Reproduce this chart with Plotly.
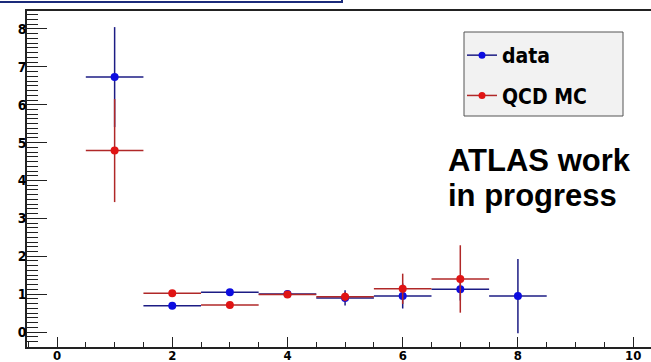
import plotly.graph_objects as go

# ---- data ----
bins_data = [1, 2, 3, 4, 5, 6, 7, 8]
data_y = [6.73, 0.69, 1.05, 1.00, 0.90, 0.95, 1.13, 0.95]
data_err = [1.32, 0.06, 0.06, 0.08, 0.20, 0.33, 0.30, 0.98]
bins_mc = [1, 2, 3, 4, 5, 6, 7]
mc_y = [4.79, 1.02, 0.71, 0.99, 0.93, 1.14, 1.40]
mc_err = [1.36, 0.09, 0.06, 0.09, 0.12, 0.40, 0.89]
bin_half = 0.5
series_names = ["data", "QCD MC"]
text_lines = ["ATLAS work", "in progress"]

W, H = 651, 362
ML, MR, MT, MB = 27, 0, 11, 15
PW, PH = W - ML - MR, H - MT - MB


def px(x):
    return (x - ML) / PW


def py(y):
    return (H - MB - y) / PH


BLUE_M, BLUE_L = "#0c0ce0", "#1c1c84"
RED_M, RED_L = "#e01414", "#b02828"
NARROW = "DejaVu Sans Condensed, Liberation Sans Narrow, Arial Narrow, sans-serif"

fig = go.Figure()
fig.add_trace(go.Scatter(
    x=bins_data, y=data_y, mode="markers", showlegend=False,
    marker=dict(color=BLUE_M, size=8),
    error_y=dict(type="data", array=data_err, color=BLUE_L, thickness=1.5, width=0),
    error_x=dict(type="data", array=[bin_half] * len(bins_data), color=BLUE_L, thickness=1.5, width=0),
))
fig.add_trace(go.Scatter(
    x=bins_mc, y=mc_y, mode="markers", showlegend=False,
    marker=dict(color=RED_M, size=8),
    error_y=dict(type="data", array=mc_err, color=RED_L, thickness=1.5, width=0),
    error_x=dict(type="data", array=[bin_half] * len(bins_mc), color=RED_L, thickness=1.5, width=0),
))
# legend entries
fig.add_trace(go.Scatter(x=[None], y=[None], mode="lines+markers", name=series_names[0],
                         legendgroup="a", line=dict(color=BLUE_L, width=1.5),
                         marker=dict(color=BLUE_M, size=7)))
fig.add_trace(go.Scatter(x=[None], y=[None], mode="lines+markers", name=series_names[1],
                         legendgroup="b", line=dict(color=RED_L, width=1.5),
                         marker=dict(color=RED_M, size=7)))

fig.update_layout(
    template="none",
    width=W, height=H,
    margin=dict(l=ML, r=MR, t=MT, b=MB, autoexpand=False),
    paper_bgcolor="white", plot_bgcolor="white",
    showlegend=True,
    legend=dict(x=px(462), y=py(35), xanchor="left", yanchor="top",
                bgcolor="rgba(0,0,0,0)", borderwidth=0,
                font=dict(family=NARROW, size=21, color="black", weight="bold"),
                tracegroupgap=10, itemclick=False),
    xaxis=dict(range=[-0.521, 10.31], dtick=2, tick0=0, showgrid=False, zeroline=False,
               automargin=False,
               showline=True, linecolor="#222", linewidth=2, mirror=True,
               ticks="inside", ticklen=10, tickwidth=1.2, tickcolor="#222",
               ticklabelstandoff=-5,
               minor=dict(dtick=0.5, ticks="inside", ticklen=5, tickwidth=1.2, tickcolor="#222"),
               tickfont=dict(family=NARROW, size=13, color="black", weight="bold")),
    yaxis=dict(range=[-0.396, 8.475], dtick=1, tick0=0, showgrid=False, zeroline=False,
               automargin=False,
               showline=True, linecolor="#222", linewidth=1.5,
               ticks="inside", ticklen=20, tickwidth=1.2, tickcolor="#222",
               ticklabelstandoff=-4,
               minor=dict(dtick=0.125, ticks="inside", ticklen=11, tickwidth=1.2, tickcolor="#222"),
               tickfont=dict(family=NARROW, size=14, color="black", weight="bold")),
)

# legend box
fig.add_shape(type="rect", xref="paper", yref="paper",
              x0=px(464), x1=px(623), y0=py(116), y1=py(32),
              fillcolor="#f2f2f2", line=dict(color="#555", width=1), layer="below")
# top-left title box remnant
fig.add_shape(type="rect", xref="paper", yref="paper",
              x0=px(-6), x1=px(342), y0=py(2), y1=py(-6),
              fillcolor="white", line=dict(color="#1a2a7a", width=2))

fig.add_annotation(text=text_lines[0], xref="paper", yref="paper", x=px(446), y=py(160),
                   xanchor="left", yanchor="middle", showarrow=False,
                   font=dict(family="Liberation Sans, Arial, sans-serif", size=31, color="black", weight="bold"))
fig.add_annotation(text=text_lines[1], xref="paper", yref="paper", x=px(446), y=py(195),
                   xanchor="left", yanchor="middle", showarrow=False,
                   font=dict(family="Liberation Sans, Arial, sans-serif", size=31, color="black", weight="bold"))

fig.write_html("out.html", config={"displayModeBar": False},
               post_script="document.body.style.margin='0';document.body.style.overflow='hidden';")
